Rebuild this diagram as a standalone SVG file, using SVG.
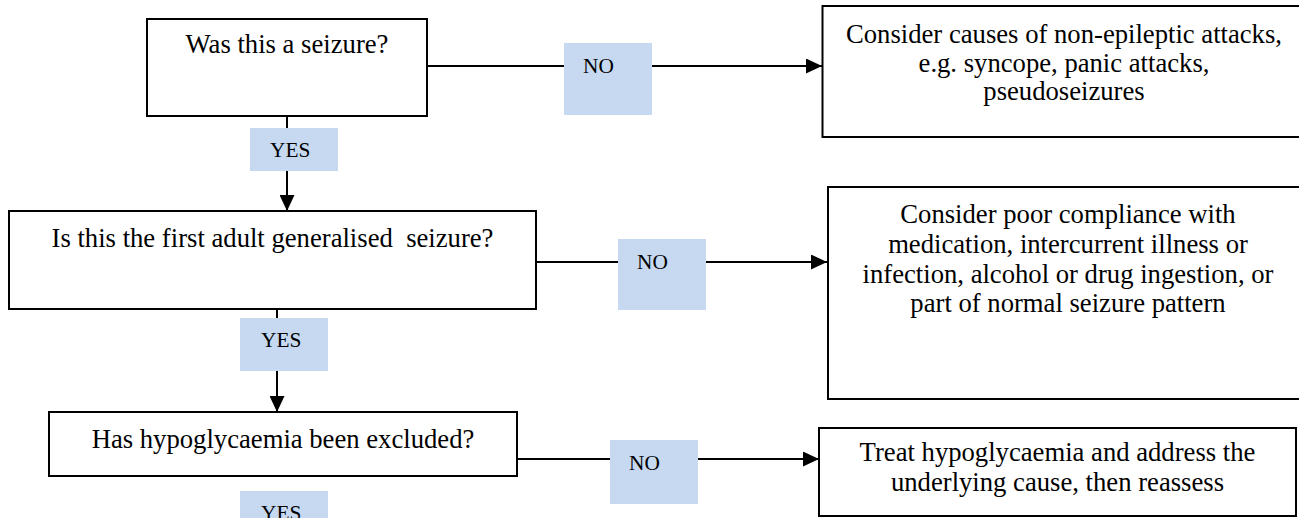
<svg xmlns="http://www.w3.org/2000/svg" width="1299" height="518" viewBox="0 0 1299 518">
<style>
.box{fill:#fff;stroke:#000;stroke-width:2}
.t{font-family:"Liberation Serif","Times New Roman",serif;font-size:26.67px;fill:#000;text-anchor:middle}
.lbl{fill:#C6D9F1}
.lt{font-family:"Liberation Serif","Times New Roman",serif;font-size:21.33px;fill:#000}
.c{stroke:#000;stroke-width:2;fill:none}
</style>
<defs>
<marker id="ah" markerUnits="userSpaceOnUse" markerWidth="16" markerHeight="15" refX="16" refY="7.5" orient="auto">
<path d="M0,0 L16,7.5 L0,15 z" fill="#000"/>
</marker>
</defs>
<rect width="1299" height="518" fill="#fff"/>
<g id="connectors">
<line class="c" x1="427" y1="66" x2="822" y2="66" marker-end="url(#ah)"/>
<line class="c" x1="287" y1="116" x2="287" y2="211" marker-end="url(#ah)"/>
<line class="c" x1="536" y1="262" x2="827" y2="262" marker-end="url(#ah)"/>
<line class="c" x1="277" y1="309" x2="277" y2="412" marker-end="url(#ah)"/>
<line class="c" x1="517" y1="459" x2="819" y2="459" marker-end="url(#ah)"/>
<g id="labels">
<rect class="lbl" x="564" y="43" width="88" height="72"/>
<text class="lt" x="583" y="73">NO</text>
<rect class="lbl" x="250" y="128" width="88" height="43"/>
<text class="lt" x="270" y="157">YES</text>
<rect class="lbl" x="618" y="239" width="88" height="71"/>
<text class="lt" x="637" y="269">NO</text>
<rect class="lbl" x="240" y="318" width="88" height="53"/>
<text class="lt" x="261" y="347">YES</text>
<rect class="lbl" x="610" y="440" width="88" height="64"/>
<text class="lt" x="629" y="470">NO</text>
<rect class="lbl" x="240" y="491" width="88" height="30"/>
<text class="lt" x="261" y="520">YES</text>
</g>
</g>
<g id="q1">
<rect class="box" x="147" y="19" width="280" height="97"/>
<text class="t" x="287" y="53">Was this a seizure?</text>
</g>
<g id="a1">
<rect class="box" x="822.5" y="6" width="490" height="131"/>
<text class="t" x="1064" y="43">Consider causes of non-epileptic attacks,</text>
<text class="t" x="1064" y="72">e.g. syncope, panic attacks,</text>
<text class="t" x="1064" y="100">pseudoseizures</text>
</g>
<g id="q2">
<rect class="box" x="9" y="211" width="527" height="98"/>
<text class="t" x="272.5" y="247" xml:space="preserve" style="white-space:pre">Is this the first adult generalised  seizure?</text>
</g>
<g id="a2">
<rect class="box" x="828" y="187" width="490" height="212"/>
<text class="t" x="1068" y="223">Consider poor compliance with</text>
<text class="t" x="1068" y="253">medication, intercurrent illness or</text>
<text class="t" x="1068" y="283">infection, alcohol or drug ingestion, or</text>
<text class="t" x="1068" y="312">part of normal seizure pattern</text>
</g>
<g id="q3">
<rect class="box" x="49" y="412" width="468" height="64"/>
<text class="t" x="283" y="448">Has hypoglycaemia been excluded?</text>
</g>
<g id="a3">
<rect class="box" x="819" y="428" width="477" height="88"/>
<text class="t" x="1057.5" y="461">Treat hypoglycaemia and address the</text>
<text class="t" x="1057.5" y="491">underlying cause, then reassess</text>
</g>
</svg>
